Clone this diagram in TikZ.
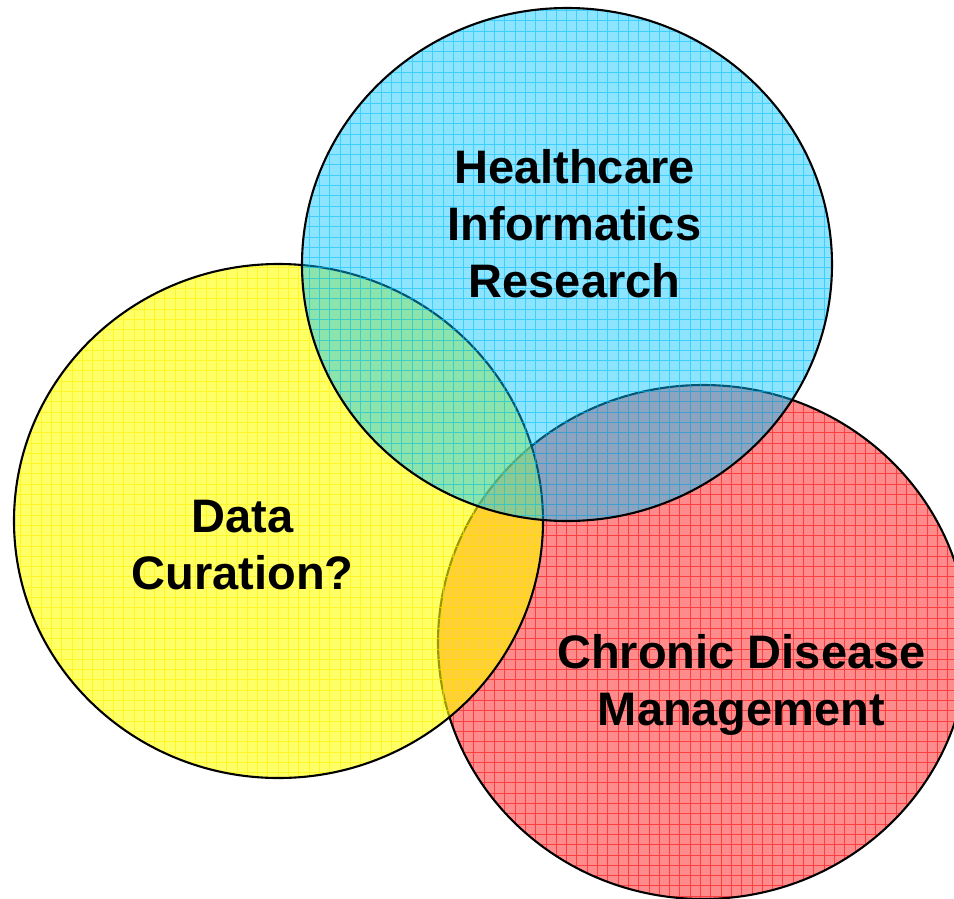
\documentclass[tikz,border=0pt]{standalone}
\usepackage{fontspec}
\setmainfont{Liberation Sans}
\definecolor{cyanfill}{RGB}{0,195,255}
\definecolor{cyangrid}{RGB}{0,190,255}
\definecolor{yelfill}{RGB}{255,255,0}
\definecolor{yelgrid}{RGB}{255,240,0}
\definecolor{redfill}{RGB}{255,0,0}
\definecolor{redgrid}{RGB}{255,0,0}
\tikzset{
  lbl/.style={font=\bfseries\fontsize{47}{57}\selectfont, align=center, text=black, inner sep=0pt},
  outline/.style={draw=black, line width=2.1pt},
  gridline/.style={line width=0.8pt},
}
\begin{document}
\begin{tikzpicture}[x=1pt,y=-1pt]
\useasboundingbox (0,0) rectangle (954,898);
% red (bottom)
\fill[redfill, fill opacity=0.45] (703,642) ellipse [x radius=265, y radius=257];
\begin{scope}
  \clip (703,642) ellipse [x radius=265, y radius=257];
  \draw[gridline, redgrid, draw opacity=0.55, step=10.3pt] (430pt,-905pt) grid (975pt,-380pt);
\end{scope}
\draw[outline] (703,642) ellipse [x radius=265, y radius=257];
% yellow
\fill[yelfill, fill opacity=0.6] (278.5,521) ellipse [x radius=264.5, y radius=257];
\begin{scope}
  \clip (278.5,521) ellipse [x radius=264.5, y radius=257];
  \draw[gridline, yelgrid, draw opacity=0.6, step=10.3pt] (0pt,-790pt) grid (550pt,-255pt);
\end{scope}
\draw[outline] (278.5,521) ellipse [x radius=264.5, y radius=257];
% blue (top)
\fill[cyanfill, fill opacity=0.45] (567,264.5) ellipse [x radius=265, y radius=256.5];
\begin{scope}
  \clip (567,264.5) ellipse [x radius=265, y radius=256.5];
  \draw[gridline, cyangrid, draw opacity=0.55, step=10.3pt] (295pt,-530pt) grid (840pt,0pt);
\end{scope}
\draw[outline] (567,264.5) ellipse [x radius=265, y radius=256.5];
% labels
\node[lbl] (hir) at (574.5,224) {Healthcare\\Informatics\\Research};
\node[lbl] (dc) at (242.5,545.5) {Data\\Curation?};
\node[lbl] (cdm) at (741.5,685) {Chronic Disease\\Management};
\end{tikzpicture}
\end{document}
